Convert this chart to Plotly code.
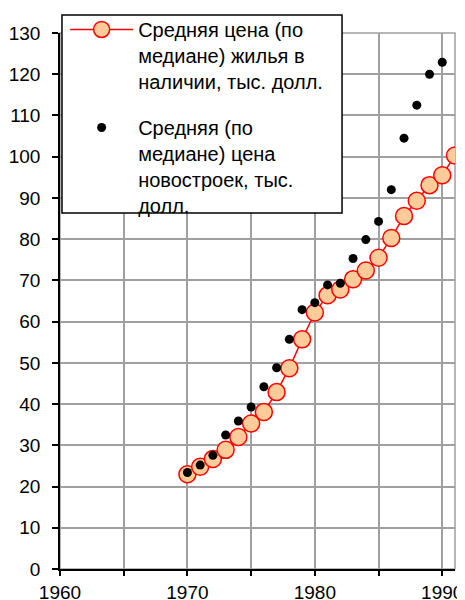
import plotly.graph_objects as go

years_existing = list(range(1970, 1992))
price_existing = [23.0, 24.8, 26.7, 28.9, 32.0, 35.3, 38.1, 42.9, 48.7, 55.7,
                  62.2, 66.4, 67.8, 70.3, 72.4, 75.5, 80.3, 85.6, 89.3, 93.1,
                  95.5, 100.3]
years_new = list(range(1970, 1991))
price_new = [23.4, 25.2, 27.6, 32.5, 35.9, 39.3, 44.2, 48.8, 55.7, 62.9,
             64.6, 68.9, 69.3, 75.3, 79.9, 84.3, 92.0, 104.5, 112.5, 120.0,
             122.9]

name_existing = "Средняя цена (по<br>медиане) жилья в<br>наличии, тыс. долл."
name_new = "Средняя (по<br>медиане) цена<br>новостроек, тыс.<br>долл."

x_tickvals = [1960, 1965, 1970, 1975, 1980, 1985, 1990]
x_ticktext = ["1960", "", "1970", "", "1980", "", "1990"]
y_tickvals = list(range(0, 131, 10))

FONT = "Liberation Sans, Arial, sans-serif"

fig = go.Figure()
fig.add_trace(go.Scatter(
    x=years_existing, y=price_existing, name=name_existing,
    mode="lines+markers", legendgroup="a",
    line=dict(color="#FF0000", width=1.5),
    marker=dict(size=17, color="#FFCC99", line=dict(color="#FF0000", width=1.5)),
))
fig.add_trace(go.Scatter(
    x=years_new, y=price_new, name=name_new,
    mode="markers", legendgroup="b",
    marker=dict(size=9, color="#000000"),
))

# page has an 8px body margin, so the figure is sized/offset to compensate
fig.update_layout(
    width=457, height=592,
    margin=dict(l=52, r=10, t=25, b=31, autoexpand=False),
    paper_bgcolor="white", plot_bgcolor="white",
    font=dict(family=FONT, size=19, color="black"),
    showlegend=True,
    legend=dict(
        x=0.013, y=1.043, xanchor="left", yanchor="top",
        bgcolor="rgba(0,0,0,0)", borderwidth=0,
        font=dict(family=FONT, size=20, color="black"),
        valign="top", itemwidth=63, tracegroupgap=17,
        traceorder="grouped",
    ),
    shapes=[
        dict(type="rect", xref="paper", yref="paper", x0=0, y0=0, x1=1, y1=1,
             line=dict(color="#A0A0A0", width=1.5), layer="below"),
        dict(type="rect", xref="paper", yref="paper", x0=0.005, y0=0.664,
             x1=0.714, y1=1.0336, fillcolor="white",
             line=dict(color="black", width=1.5), layer="above"),
    ],
)
fig.update_xaxes(
    range=[1960, 1991], tickvals=x_tickvals, ticktext=x_ticktext,
    showgrid=True, gridcolor="#A0A0A0", gridwidth=1.5,
    showline=True, linecolor="black", linewidth=1.5,
    ticks="outside", ticklen=5, tickcolor="black", tickwidth=1.5,
    ticklabelstandoff=0,
    zeroline=False, automargin=False,
)
fig.update_yaxes(
    range=[0, 130], tickvals=y_tickvals,
    showgrid=True, gridcolor="#A0A0A0", gridwidth=1.5,
    showline=True, linecolor="black", linewidth=1.5,
    ticks="outside", ticklen=6, tickcolor="black", tickwidth=1.5,
    ticklabelstandoff=8,
    zeroline=False, automargin=False,
)

fig.write_html("out.html")
